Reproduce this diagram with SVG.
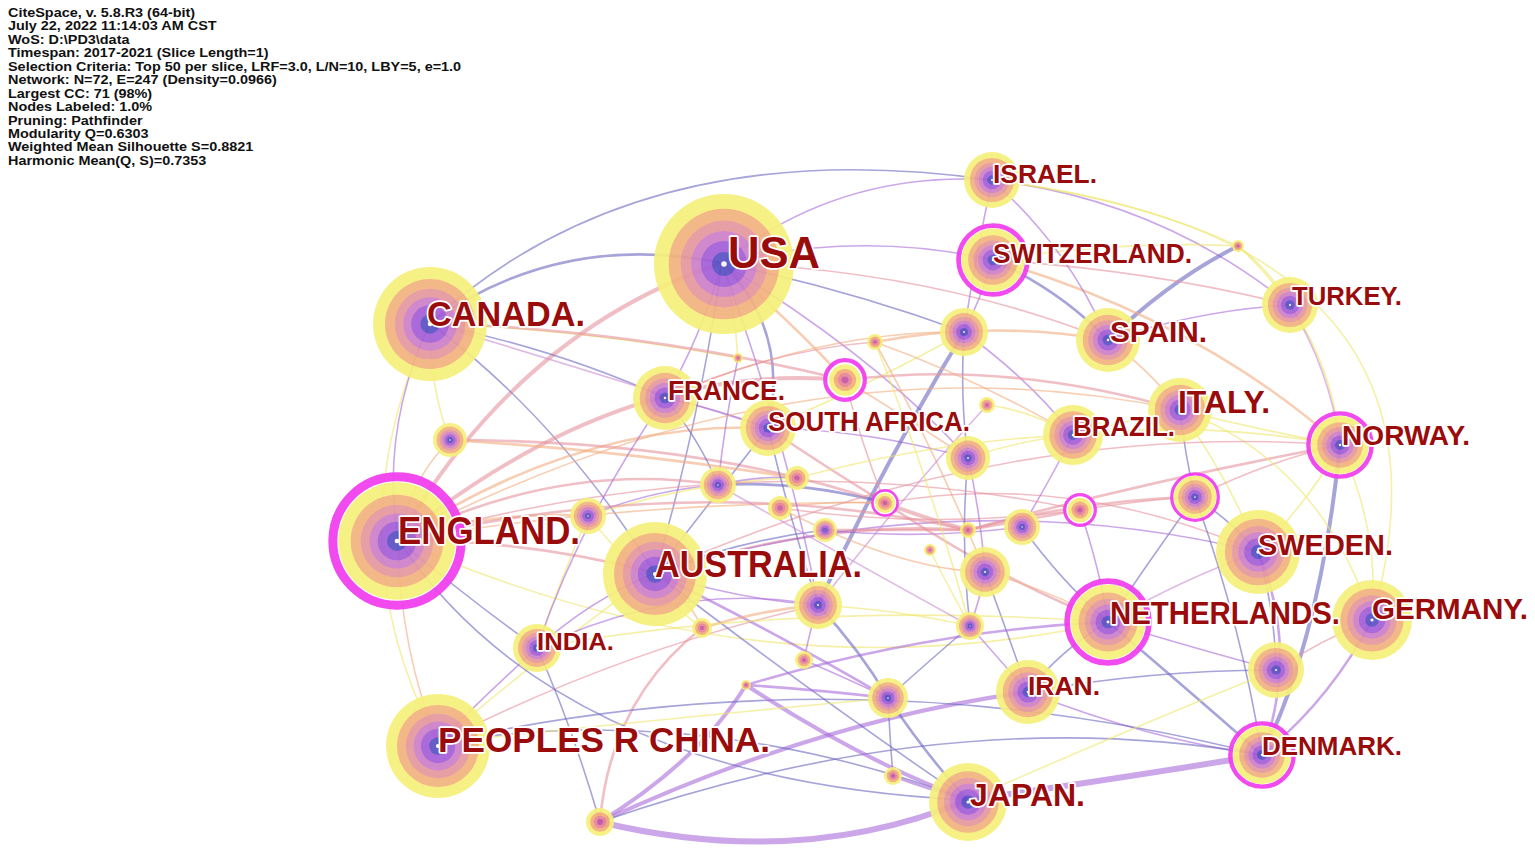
<svg xmlns="http://www.w3.org/2000/svg" xmlns:xlink="http://www.w3.org/1999/xlink" width="1535" height="866" viewBox="0 0 1535 866">
<style>
.info{font-family:"Liberation Sans",Arial,sans-serif;font-weight:bold;font-size:13.3px;fill:#111}
.lb{font-family:"Liberation Sans",Arial,sans-serif;font-weight:bold;fill:#9a0b0b;stroke:#fff;stroke-width:3.5;paint-order:stroke;stroke-linejoin:round}
#edges path{fill:none;stroke-linecap:round;stroke-opacity:0.6}
.b{stroke:#6a68bf}.p{stroke:#a96ad8}.k{stroke:#e6949f}.o{stroke:#f2ae80}.y{stroke:#eee66a}.m{stroke:#c98ad2}
.w1{stroke-width:1.6}.w2{stroke-width:2.6}.w3{stroke-width:4}.w4{stroke-width:6}
.node use{opacity:0.92}
</style>
<defs>
<symbol id="nd" viewBox="-100 -100 200 200" overflow="visible">
<circle r="100" fill="#f6f07a"/>
<circle r="79" fill="#f3b27e"/>
<circle r="62" fill="#e6979f"/>
<circle r="47" fill="#cd7fc8"/>
<circle r="33" fill="#a35ed6"/>
<circle r="17" fill="#5a50c4"/>
<circle r="4" fill="#fff"/>
</symbol>
<symbol id="ns" viewBox="-100 -100 200 200" overflow="visible">
<circle r="100" fill="#f6f07a"/>
<circle r="70" fill="#f3ad78"/>
<circle r="45" fill="#e8859a"/>
<circle r="22" fill="#c85aa8"/>
</symbol>
<symbol id="nm" viewBox="-100 -100 200 200" overflow="visible">
<circle r="93" fill="#fff" stroke="#f03cee" stroke-width="13"/>
<use href="#nd" x="-85" y="-85" width="170" height="170"/>
</symbol>
<symbol id="nms" viewBox="-100 -100 200 200" overflow="visible">
<circle r="90" fill="#fff" stroke="#f03cee" stroke-width="19"/>
<use href="#ns" x="-72" y="-72" width="144" height="144"/>
</symbol>
</defs>
<rect width="1535" height="866" fill="#fff"/>
<g id="info" transform="translate(8,0) scale(1.085,1)">
<text class="info" x="0" y="17">CiteSpace, v. 5.8.R3 (64-bit)</text>
<text class="info" x="0" y="30.5">July 22, 2022 11:14:03 AM CST</text>
<text class="info" x="0" y="44">WoS: D:\PD3\data</text>
<text class="info" x="0" y="57.3">Timespan: 2017-2021 (Slice Length=1)</text>
<text class="info" x="0" y="70.8">Selection Criteria: Top 50 per slice, LRF=3.0, L/N=10, LBY=5, e=1.0</text>
<text class="info" x="0" y="84.2">Network: N=72, E=247 (Density=0.0966)</text>
<text class="info" x="0" y="97.7">Largest CC: 71 (98%)</text>
<text class="info" x="0" y="111.1">Nodes Labeled: 1.0%</text>
<text class="info" x="0" y="124.6">Pruning: Pathfinder</text>
<text class="info" x="0" y="138">Modularity Q=0.6303</text>
<text class="info" x="0" y="151.5">Weighted Mean Silhouette S=0.8821</text>
<text class="info" x="0" y="165">Harmonic Mean(Q, S)=0.7353</text>
</g>
<g id="edges">
<path class="b w1" d="M430,323 Q640,130 992,180"/>
<path class="k w3" d="M398,540 Q520,330 722,263"/>
<path class="b w2" d="M430,323 Q560,230 722,263"/>
<path class="y w1" d="M430,323 Q330,540 438,743"/>
<path class="p w1" d="M430,323 Q380,430 398,540"/>
<path class="b w1" d="M430,323 Q560,420 655,573"/>
<path class="b w1" d="M430,323 Q560,350 665,398"/>
<path class="m w1" d="M430,323 Q620,380 768,428"/>
<path class="p w1" d="M722,263 Q840,170 992,180"/>
<path class="p w1" d="M722,263 Q860,230 993,260"/>
<path class="b w2" d="M722,263 Q790,330 768,428"/>
<path class="b w1" d="M722,263 Q700,420 655,573"/>
<path class="p w1" d="M722,263 Q700,340 665,398"/>
<path class="b w1" d="M722,263 Q850,290 964,332"/>
<path class="p w1" d="M722,263 Q880,360 968,458"/>
<path class="k w1" d="M722,263 Q930,270 1108,340"/>
<path class="p w1" d="M992,180 Q1160,200 1290,305"/>
<path class="y w1" d="M992,180 Q1140,200 1238,246"/>
<path class="y w1" d="M993,260 Q1120,240 1238,246"/>
<path class="b w3" d="M1108,340 Q1170,280 1238,246"/>
<path class="b w2" d="M993,260 Q1060,290 1108,340"/>
<path class="y w1" d="M992,180 Q1480,240 1372,620"/>
<path class="y w1" d="M1290,305 Q1270,270 1238,246"/>
<path class="k w1" d="M993,260 Q1150,270 1290,305"/>
<path class="o w2" d="M993,260 Q1200,320 1340,445"/>
<path class="y w1" d="M1238,246 Q1330,330 1340,445"/>
<path class="m w1" d="M1290,305 Q1330,370 1340,445"/>
<path class="b w3" d="M1340,445 Q1320,640 1262,755"/>
<path class="y w1" d="M1340,445 Q1310,500 1258,552"/>
<path class="y w1" d="M1340,445 Q1380,530 1372,620"/>
<path class="y w1" d="M1180,410 Q1260,430 1340,445"/>
<path class="y w1" d="M1180,410 Q1230,480 1258,552"/>
<path class="b w1" d="M1180,410 Q1185,455 1195,497"/>
<path class="k w1" d="M1195,497 Q1270,460 1340,445"/>
<path class="b w1" d="M1195,497 Q1150,560 1108,622"/>
<path class="p w2" d="M1258,552 Q1300,650 1262,755"/>
<path class="b w1" d="M1258,552 Q1275,610 1276,670"/>
<path class="p w2" d="M1372,620 Q1330,700 1262,755"/>
<path class="k w1" d="M1372,620 Q1320,640 1276,670"/>
<path class="b w2" d="M1108,622 Q1200,700 1262,755"/>
<path class="p w1" d="M1108,622 Q1200,650 1276,670"/>
<path class="m w1" d="M1108,622 Q1180,580 1258,552"/>
<path class="b w1" d="M1108,622 Q1060,650 1028,692"/>
<path class="p w1" d="M1028,692 Q1150,740 1262,755"/>
<path class="p w4" d="M968,800 Q1110,780 1262,755"/>
<path class="p w4" d="M600,822 Q800,870 968,800"/>
<path class="p w3" d="M600,822 Q820,720 1028,692"/>
<path class="k w2" d="M600,822 Q610,700 702,628"/>
<path class="p w3" d="M600,822 Q700,760 746,685"/>
<path class="b w1" d="M600,822 Q570,720 537,648"/>
<path class="b w1" d="M600,822 Q950,700 1262,755"/>
<path class="b w1" d="M438,743 Q850,650 1262,755"/>
<path class="b w1" d="M438,743 Q700,700 968,800"/>
<path class="y w1" d="M438,743 Q560,640 655,573"/>
<path class="k w1" d="M438,743 Q620,650 818,605"/>
<path class="b w1" d="M398,540 Q560,780 968,800"/>
<path class="k w2" d="M398,540 Q530,540 655,573"/>
<path class="o w2" d="M398,540 Q490,510 588,516"/>
<path class="k w2" d="M398,540 Q560,460 718,485"/>
<path class="o w2" d="M398,540 Q580,420 768,428"/>
<path class="k w3" d="M398,540 Q620,360 845,380"/>
<path class="b w1" d="M398,540 Q470,600 537,648"/>
<path class="o w1" d="M398,540 Q400,650 438,743"/>
<path class="o w1" d="M398,540 Q410,480 450,440"/>
<path class="y w1" d="M398,540 Q760,700 1108,622"/>
<path class="k w2" d="M450,440 Q700,440 885,503"/>
<path class="p w1" d="M655,573 Q740,600 818,605"/>
<path class="b w1" d="M655,573 Q740,540 825,530"/>
<path class="b w1" d="M655,573 Q720,490 768,428"/>
<path class="p w1" d="M655,573 Q590,600 537,648"/>
<path class="p w2" d="M655,573 Q790,640 888,698"/>
<path class="b w1" d="M655,573 Q820,700 968,800"/>
<path class="o w1" d="M655,573 Q690,600 702,628"/>
<path class="k w2" d="M655,573 Q820,520 968,530"/>
<path class="p w1" d="M655,573 Q960,480 1258,552"/>
<path class="p w1" d="M537,648 Q680,580 818,605"/>
<path class="p w1" d="M537,648 Q480,700 438,743"/>
<path class="y w1" d="M537,648 Q560,580 588,516"/>
<path class="b w1" d="M665,398 Q700,440 718,485"/>
<path class="p w1" d="M665,398 Q720,410 768,428"/>
<path class="o w1" d="M665,398 Q820,330 964,332"/>
<path class="k w1" d="M665,398 Q770,350 875,342"/>
<path class="p w1" d="M768,428 Q870,430 968,458"/>
<path class="k w2" d="M768,428 Q830,470 885,503"/>
<path class="y w1" d="M768,428 Q880,380 964,332"/>
<path class="b w3" d="M964,332 Q880,470 818,605"/>
<path class="b w1" d="M964,332 Q960,400 968,458"/>
<path class="p w1" d="M964,332 Q980,300 993,260"/>
<path class="p w1" d="M964,332 Q1030,380 1073,435"/>
<path class="o w1" d="M845,380 Q910,420 968,458"/>
<path class="k w2" d="M845,380 Q1010,360 1180,410"/>
<path class="k w1" d="M845,380 Q860,440 885,503"/>
<path class="o w1" d="M875,342 Q940,460 985,572"/>
<path class="o w1" d="M875,342 Q980,380 1073,435"/>
<path class="o w2" d="M875,342 Q990,320 1108,340"/>
<path class="p w1" d="M738,358 Q725,420 718,485"/>
<path class="y w1" d="M738,358 Q735,310 722,263"/>
<path class="p w1" d="M588,516 Q650,490 718,485"/>
<path class="y w1" d="M588,516 Q700,480 797,478"/>
<path class="p w1" d="M718,485 Q760,475 797,478"/>
<path class="b w2" d="M718,485 Q800,480 885,503"/>
<path class="y w1" d="M797,478 Q940,440 1073,435"/>
<path class="o w1" d="M780,508 Q830,500 885,503"/>
<path class="k w1" d="M780,508 Q930,530 1080,510"/>
<path class="k w2" d="M825,530 Q900,530 968,530"/>
<path class="p w1" d="M825,530 Q920,540 1022,527"/>
<path class="k w3" d="M885,503 Q930,520 968,530"/>
<path class="k w2" d="M885,503 Q1000,580 1108,622"/>
<path class="k w1" d="M885,503 Q1070,470 1258,552"/>
<path class="y w1" d="M968,458 Q1020,440 1073,435"/>
<path class="p w1" d="M968,458 Q980,510 985,572"/>
<path class="b w1" d="M968,458 Q960,540 970,626"/>
<path class="y w1" d="M987,405 Q1030,410 1073,435"/>
<path class="m w1" d="M987,405 Q900,500 818,605"/>
<path class="k w2" d="M968,530 Q1080,500 1195,497"/>
<path class="k w2" d="M968,530 Q1150,480 1340,445"/>
<path class="k w2" d="M968,530 Q1025,520 1080,510"/>
<path class="b w1" d="M1022,527 Q1060,580 1108,622"/>
<path class="p w1" d="M1022,527 Q1050,480 1073,435"/>
<path class="p w1" d="M1080,510 Q1100,570 1108,622"/>
<path class="k w1" d="M1080,510 Q1140,500 1195,497"/>
<path class="p w1" d="M985,572 Q980,600 970,626"/>
<path class="o w1" d="M985,572 Q1050,590 1108,622"/>
<path class="b w1" d="M985,572 Q1010,640 1028,692"/>
<path class="p w1" d="M818,605 Q810,630 804,660"/>
<path class="b w2" d="M818,605 Q860,650 888,698"/>
<path class="y w1" d="M818,605 Q900,610 970,626"/>
<path class="o w2" d="M702,628 Q760,610 818,605"/>
<path class="b w1" d="M970,626 Q930,660 888,698"/>
<path class="p w1" d="M970,626 Q1000,660 1028,692"/>
<path class="p w1" d="M804,660 Q850,680 888,698"/>
<path class="p w2" d="M746,685 Q820,690 888,698"/>
<path class="p w2" d="M746,685 Q930,630 1108,622"/>
<path class="b w2" d="M888,698 Q930,760 968,800"/>
<path class="b w1" d="M888,698 Q890,740 893,776"/>
<path class="p w2" d="M893,776 Q930,790 968,800"/>
<path class="p w3" d="M746,685 Q860,760 968,800"/>
<path class="y w1" d="M1073,435 Q1130,420 1180,410"/>
<path class="y w1" d="M1073,435 Q1200,420 1340,445"/>
<path class="o w1" d="M1108,340 Q1150,370 1180,410"/>
<path class="p w1" d="M1108,340 Q1200,310 1290,305"/>
<path class="y w1" d="M1180,410 Q1320,460 1372,620"/>
<path class="b w1" d="M1195,497 Q1230,520 1258,552"/>
<path class="b w1" d="M1195,497 Q1240,620 1262,755"/>
<path class="b w1" d="M1028,692 Q1150,670 1276,670"/>
<path class="y w1" d="M968,800 Q1150,720 1276,670"/>
<path class="y w1" d="M438,743 Q650,720 888,698"/>
<path class="o w1" d="M398,540 Q640,500 885,503"/>
<path class="y w1" d="M430,323 Q590,330 738,358"/>
<path class="y w1" d="M930,550 Q950,590 970,626"/>
<path class="p w1" d="M992,180 Q975,260 964,332"/>
<path class="p w1" d="M992,180 Q1070,250 1108,340"/>
<path class="o w2" d="M722,263 Q790,320 845,380"/>
<path class="y w1" d="M430,323 Q430,390 450,440"/>
<path class="k w2" d="M398,540 Q700,470 968,530"/>
<path class="k w1" d="M398,540 Q750,440 1080,510"/>
<path class="o w2" d="M450,440 Q620,450 797,478"/>
<path class="o w1" d="M398,540 Q800,330 1180,410"/>
<path class="k w1" d="M655,573 Q1000,420 1340,445"/>
<path class="k w2" d="M430,323 Q640,330 845,380"/>
<path class="p w1" d="M722,263 Q790,450 818,605"/>
<path class="b w1" d="M768,428 Q790,520 818,605"/>
<path class="p w1" d="M665,398 Q580,520 537,648"/>
<path class="y w1" d="M588,516 Q640,580 702,628"/>
<path class="y w1" d="M875,342 Q930,480 970,626"/>
<path class="o w1" d="M780,508 Q900,570 985,572"/>
<path class="y w1" d="M537,648 Q800,600 1108,622"/>
<path class="m w1" d="M718,485 Q850,560 970,626"/>
</g>
<g id="n-usa" class="node"><use href="#nd" x="654" y="194" width="140" height="140"/><text class="lb" x="728" y="268" font-size="44" textLength="92" lengthAdjust="spacingAndGlyphs">USA</text></g>
<g id="n-canada" class="node"><use href="#nd" x="373" y="267" width="114" height="114"/><text class="lb" x="427" y="326" font-size="35" textLength="158" lengthAdjust="spacingAndGlyphs">CANADA.</text></g>
<g id="n-france" class="node"><use href="#nd" x="633" y="366" width="64" height="64"/><text class="lb" x="668" y="400" font-size="27" textLength="117" lengthAdjust="spacingAndGlyphs">FRANCE.</text></g>
<g id="n-southafrica" class="node"><use href="#nd" x="740" y="400" width="56" height="56"/><text class="lb" x="768" y="431" font-size="27" textLength="202" lengthAdjust="spacingAndGlyphs">SOUTH AFRICA.</text></g>
<g id="n-israel" class="node"><use href="#nd" x="964" y="152" width="56" height="56"/><text class="lb" x="993" y="183" font-size="26" textLength="104" lengthAdjust="spacingAndGlyphs">ISRAEL.</text></g>
<g id="n-switzerland" class="node"><use href="#nm" x="956" y="223" width="74" height="74"/><text class="lb" x="993" y="263" font-size="27" textLength="199" lengthAdjust="spacingAndGlyphs">SWITZERLAND.</text></g>
<g id="n-turkey" class="node"><use href="#nd" x="1262" y="277" width="56" height="56"/><text class="lb" x="1292" y="305" font-size="25" textLength="110" lengthAdjust="spacingAndGlyphs">TURKEY.</text></g>
<g id="n-spain" class="node"><use href="#nd" x="1076" y="308" width="64" height="64"/><text class="lb" x="1110" y="342" font-size="29" textLength="97" lengthAdjust="spacingAndGlyphs">SPAIN.</text></g>
<g id="n-italy" class="node"><use href="#nd" x="1148" y="378" width="64" height="64"/><text class="lb" x="1178" y="413" font-size="31" textLength="92" lengthAdjust="spacingAndGlyphs">ITALY.</text></g>
<g id="n-brazil" class="node"><use href="#nd" x="1043" y="405" width="60" height="60"/><text class="lb" x="1073" y="436" font-size="27" textLength="102" lengthAdjust="spacingAndGlyphs">BRAZIL.</text></g>
<g id="n-norway" class="node"><use href="#nm" x="1306" y="411" width="68" height="68"/><text class="lb" x="1342" y="445" font-size="27" textLength="128" lengthAdjust="spacingAndGlyphs">NORWAY.</text></g>
<g id="u1" class="node"><use href="#nd" x="940" y="308" width="48" height="48"/></g>
<g id="u2" class="node"><use href="#nms" x="823" y="358" width="44" height="44"/></g>
<g id="u3" class="node"><use href="#ns" x="867" y="334" width="16" height="16"/></g>
<g id="u4" class="node"><use href="#ns" x="733" y="353" width="10" height="10"/></g>
<g id="u5" class="node"><use href="#nd" x="433" y="423" width="34" height="34"/></g>
<g id="u6" class="node"><use href="#nd" x="570" y="498" width="36" height="36"/></g>
<g id="u7" class="node"><use href="#nd" x="700" y="467" width="36" height="36"/></g>
<g id="u8" class="node"><use href="#ns" x="785" y="466" width="24" height="24"/></g>
<g id="u9" class="node"><use href="#ns" x="768" y="496" width="24" height="24"/></g>
<g id="u10" class="node"><use href="#nd" x="813" y="518" width="24" height="24"/></g>
<g id="u11" class="node"><use href="#nms" x="871" y="489" width="28" height="28"/></g>
<g id="u12" class="node"><use href="#nd" x="946" y="436" width="44" height="44"/></g>
<g id="u13" class="node"><use href="#ns" x="979" y="397" width="16" height="16"/></g>
<g id="u14" class="node"><use href="#ns" x="960" y="522" width="16" height="16"/></g>
<g id="u15" class="node"><use href="#nd" x="1004" y="509" width="36" height="36"/></g>
<g id="u16" class="node"><use href="#nms" x="1063" y="493" width="34" height="34"/></g>
<g id="u17" class="node"><use href="#nm" x="1170" y="472" width="50" height="50"/></g>
<g id="u18" class="node"><use href="#nd" x="960" y="547" width="50" height="50"/></g>
<g id="u19" class="node"><use href="#nd" x="794" y="581" width="48" height="48"/></g>
<g id="u20" class="node"><use href="#ns" x="692" y="618" width="20" height="20"/></g>
<g id="u21" class="node"><use href="#nd" x="956" y="612" width="28" height="28"/></g>
<g id="u22" class="node"><use href="#ns" x="795" y="651" width="18" height="18"/></g>
<g id="u23" class="node"><use href="#ns" x="741" y="680" width="10" height="10"/></g>
<g id="u24" class="node"><use href="#nd" x="868" y="678" width="40" height="40"/></g>
<g id="u25" class="node"><use href="#nd" x="1248" y="642" width="56" height="56"/></g>
<g id="u26" class="node"><use href="#ns" x="884" y="767" width="18" height="18"/></g>
<g id="u27" class="node"><use href="#ns" x="586" y="808" width="28" height="28"/></g>
<g id="u28" class="node"><use href="#ns" x="1232" y="240" width="12" height="12"/></g>
<g id="u29" class="node"><use href="#ns" x="924" y="544" width="12" height="12"/></g>
<g id="n-england" class="node"><use href="#nm" x="328" y="472" width="138" height="138"/><text class="lb" x="398" y="544" font-size="38" textLength="182" lengthAdjust="spacingAndGlyphs">ENGLAND.</text></g>
<g id="n-australia" class="node"><use href="#nd" x="603" y="522" width="104" height="104"/><text class="lb" x="655" y="577" font-size="37" textLength="207" lengthAdjust="spacingAndGlyphs">AUSTRALIA.</text></g>
<g id="n-sweden" class="node"><use href="#nd" x="1216" y="510" width="84" height="84"/><text class="lb" x="1258" y="555" font-size="30" textLength="135" lengthAdjust="spacingAndGlyphs">SWEDEN.</text></g>
<g id="n-germany" class="node"><use href="#nd" x="1332" y="580" width="80" height="80"/><text class="lb" x="1372" y="619" font-size="30" textLength="156" lengthAdjust="spacingAndGlyphs">GERMANY.</text></g>
<g id="n-netherlands" class="node"><use href="#nm" x="1064" y="578" width="88" height="88"/><text class="lb" x="1110" y="624" font-size="31" textLength="230" lengthAdjust="spacingAndGlyphs">NETHERLANDS.</text></g>
<g id="n-india" class="node"><use href="#nd" x="513" y="624" width="48" height="48"/><text class="lb" x="537" y="650" font-size="24" textLength="77" lengthAdjust="spacingAndGlyphs">INDIA.</text></g>
<g id="n-iran" class="node"><use href="#nd" x="996" y="660" width="64" height="64"/><text class="lb" x="1028" y="695" font-size="26" textLength="72" lengthAdjust="spacingAndGlyphs">IRAN.</text></g>
<g id="n-china" class="node"><use href="#nd" x="386" y="694" width="104" height="104"/><text class="lb" x="438" y="752" font-size="35" textLength="332" lengthAdjust="spacingAndGlyphs">PEOPLES R CHINA.</text></g>
<g id="n-denmark" class="node"><use href="#nm" x="1228" y="721" width="68" height="68"/><text class="lb" x="1262" y="755" font-size="26" textLength="140" lengthAdjust="spacingAndGlyphs">DENMARK.</text></g>
<g id="n-japan" class="node"><use href="#nd" x="929" y="763" width="78" height="78"/><text class="lb" x="970" y="806" font-size="31" textLength="115" lengthAdjust="spacingAndGlyphs">JAPAN.</text></g>
</svg>
